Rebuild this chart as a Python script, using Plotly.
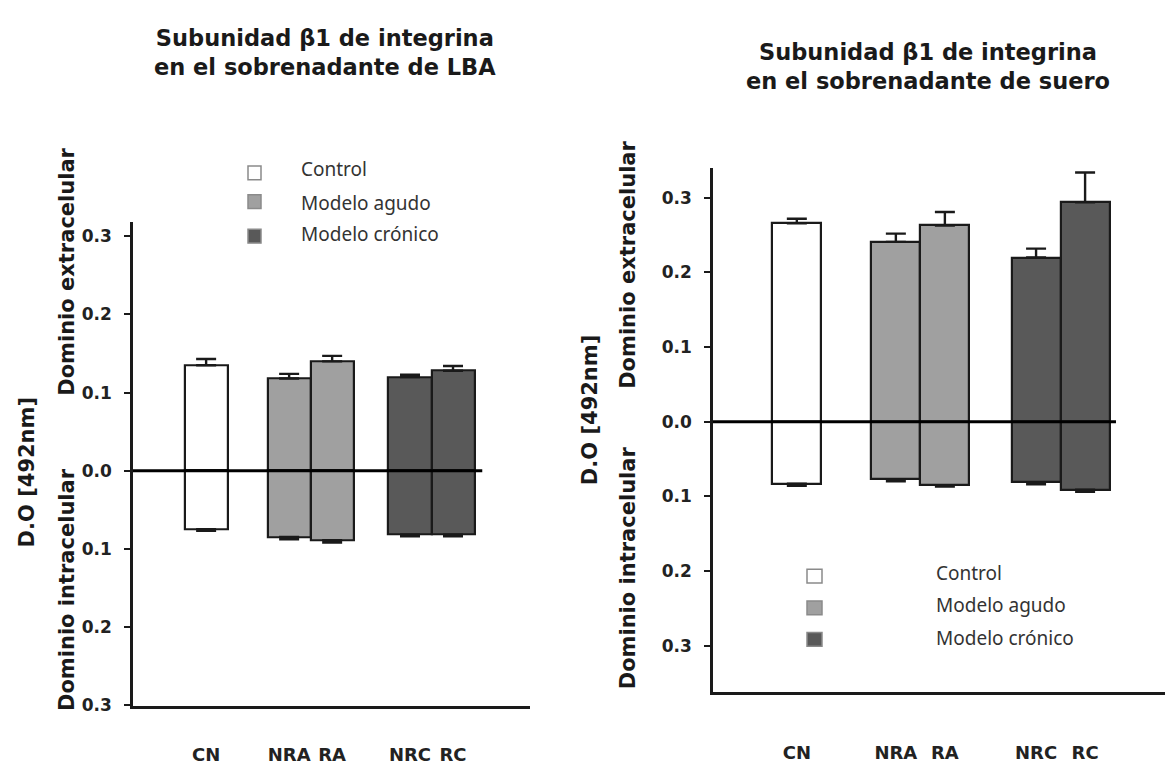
import plotly.graph_objects as go

# ---- data -------------------------------------------------------------
groups = ["CN", "NRA", "RA", "NRC", "RC"]
models = ["Control", "Modelo agudo", "Modelo agudo", "Modelo crónico", "Modelo crónico"]

# BAL supernatant (LBA)
lba_extra = [0.135, 0.118, 0.140, 0.120, 0.128]
lba_extra_err = [0.008, 0.006, 0.007, 0.003, 0.006]
lba_intra = [0.075, 0.085, 0.089, 0.082, 0.082]
lba_intra_err = [0.002, 0.003, 0.003, 0.002, 0.002]

# serum supernatant (suero)
suero_extra = [0.266, 0.241, 0.263, 0.220, 0.294]
suero_extra_err = [0.006, 0.011, 0.018, 0.012, 0.040]
suero_intra = [0.083, 0.077, 0.085, 0.081, 0.091]
suero_intra_err = [0.003, 0.003, 0.002, 0.003, 0.003]

y_ticks = [-0.3, -0.2, -0.1, 0.0, 0.1, 0.2, 0.3]
y_ticktext = ["0.3", "0.2", "0.1", "0.0", "0.1", "0.2", "0.3"]

# ---- style ------------------------------------------------------------
W, H = 1167, 769
BOLD = "DejaVu Sans"
LEG = "Noto Sans"
fill = {"Control": "#ffffff", "Modelo agudo": "#a0a0a0", "Modelo crónico": "#595959"}
colors = [fill[m] for m in models]

# bar slots along each x axis (unit = one bar width)
pos_lba = [0, 1.93, 2.93, 4.74, 5.74]
pos_suero = [0, 2.02, 3.02, 4.88, 5.88]


def px(x):
    return x / W


def py(y):
    return 1 - y / H


fig = go.Figure()


def add_panel(xa, ya, pos, extra, extra_err, intra, intra_err, cap):
    fig.add_trace(go.Bar(
        x=pos, y=extra, width=1, xaxis=xa, yaxis=ya,
        marker=dict(color=colors, line=dict(color="#1a1a1a", width=2.2)),
        error_y=dict(type="data", array=extra_err, arrayminus=[0] * len(extra),
                     symmetric=False, color="#1a1a1a", thickness=2.4, width=cap),
        showlegend=False, hoverinfo="skip"))
    fig.add_trace(go.Bar(
        x=pos, y=[-v for v in intra], width=1, xaxis=xa, yaxis=ya,
        marker=dict(color=colors, line=dict(color="#1a1a1a", width=2.2)),
        error_y=dict(type="data", array=[0] * len(intra), arrayminus=intra_err,
                     symmetric=False, color="#1a1a1a", thickness=2.4, width=cap),
        showlegend=False, hoverinfo="skip"))


add_panel("x", "y", pos_lba, lba_extra, lba_extra_err, lba_intra, lba_intra_err, 10)
add_panel("x2", "y2", pos_suero, suero_extra, suero_extra_err, suero_intra, suero_intra_err, 10)

axis_common = dict(showgrid=False, zeroline=False, showline=True,
                   linecolor="#1a1a1a", linewidth=2.5, mirror=False)
tick_font = dict(family=BOLD, size=17, color="#222", weight="bold")
x_font = dict(family=BOLD, size=18, color="#222", weight="bold")

fig.update_layout(
    width=W, height=H,
    margin=dict(l=0, r=0, t=0, b=0),
    paper_bgcolor="white", plot_bgcolor="white",
    barmode="overlay",
    bargap=0,
    xaxis=dict(domain=[px(133), px(530)], range=[-1.70, 7.53], anchor="y",
               tickvals=pos_lba, ticktext=groups, ticks="", ticklabelstandoff=31,
               tickfont=x_font, **axis_common),
    yaxis=dict(domain=[py(714), py(225)], range=[-0.301, 0.318], anchor="x",
               tickvals=y_ticks, ticktext=y_ticktext, ticks="outside", ticklen=6,
               tickwidth=2, tickcolor="#1a1a1a", ticklabelstandoff=9,
               tickfont=tick_font, **axis_common),
    xaxis2=dict(domain=[px(713), px(1165)], range=[-1.71, 7.51], anchor="y2",
                tickvals=pos_suero, ticktext=groups, ticks="", ticklabelstandoff=43,
                tickfont=x_font, **axis_common),
    yaxis2=dict(domain=[py(700), py(170)], range=[-0.362, 0.340], anchor="x2",
                tickvals=y_ticks, ticktext=y_ticktext, ticks="outside", ticklen=6,
                tickwidth=2, tickcolor="#1a1a1a", ticklabelstandoff=9,
                tickfont=tick_font, **axis_common),
)

# zero baselines across the bar groups
fig.add_shape(type="line", xref="x", yref="y", x0=-1.70, x1=6.42, y0=0, y1=0,
              line=dict(color="black", width=3))
fig.add_shape(type="line", xref="x2", yref="y2", x0=-1.71, x1=6.51, y0=0, y1=0,
              line=dict(color="black", width=3))

ann = []


def text(x, y, s, size, family=BOLD, angle=0, weight="bold", color="#1a1a1a",
         xanchor="center"):
    ann.append(dict(x=px(x), y=py(y), xref="paper", yref="paper", text=s,
                    showarrow=False, textangle=angle, xanchor=xanchor, yanchor="middle",
                    font=dict(family=family, size=size, color=color, weight=weight)))


# titles
text(325, 53, "Subunidad β1 de integrina<br>en el sobrenadante de LBA", 22.5)
text(928, 67, "Subunidad β1 de integrina<br>en el sobrenadante de suero", 22.5)

# y-axis titles
text(27, 478, "D.O [492nm]", 21, angle=-90)
text(67, 275, "Dominio extracelular", 21, angle=-90)
text(67, 597, "Dominio intracelular", 21, angle=-90)
text(590, 415, "D.O [492nm]", 21, angle=-90)
text(628, 268, "Dominio extracelular", 21, angle=-90)
text(628, 575, "Dominio intracelular", 21, angle=-90)

# legends
leg_items = ["Control", "Modelo agudo", "Modelo crónico"]
leg_left = [(175, 171), (204, 205), (239, 237)]
leg_right = [(583, 580), (615, 612), (647, 646)]
for name, (sq_y, ty) in zip(leg_items, leg_left):
    fig.add_shape(type="rect", xref="paper", yref="paper",
                  x0=px(248), x1=px(261), y0=py(sq_y - 7), y1=py(sq_y + 7),
                  fillcolor=fill[name], line=dict(color="#8a8a8a", width=1.5))
    text(299, ty, name, 19, family=LEG, weight="normal", color="#333", xanchor="left")
for name, (sq_y, ty) in zip(leg_items, leg_right):
    fig.add_shape(type="rect", xref="paper", yref="paper",
                  x0=px(807), x1=px(822), y0=py(sq_y - 7), y1=py(sq_y + 7),
                  fillcolor=fill[name], line=dict(color="#8a8a8a", width=1.5))
    text(934, ty, name, 19, family=LEG, weight="normal", color="#333", xanchor="left")

fig.update_layout(annotations=ann)

fig.write_html("out.html")
